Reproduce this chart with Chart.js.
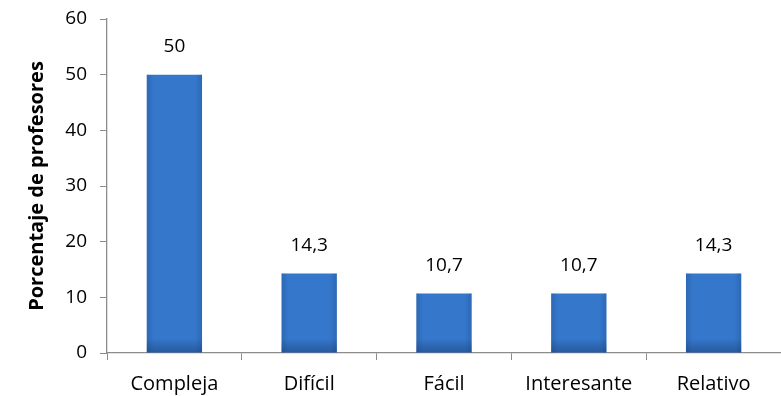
<!DOCTYPE html>
<html>
<head>
<meta charset="utf-8">
<script src="https://cdn.jsdelivr.net/npm/chart.js@4/dist/chart.umd.min.js"></script>
<style>
  html, body { margin: 0; padding: 0; background: #fff; }
  #wrap { width: 781px; height: 396px; position: relative; }
</style>
</head>
<body>
<div id="wrap"><canvas id="c"></canvas></div>
<script>
const categories = ['Compleja', 'Difícil', 'Fácil', 'Interesante', 'Relativo'];
const percentages = [50, 14.3, 10.7, 10.7, 14.3];
const yTicks = [0, 10, 20, 30, 40, 50, 60];
const yTitle = 'Porcentaje de profesores';

const FONT = '"Open Sans", "DejaVu Sans", sans-serif';
const AXIS = '#8c8c8c';

// Horizontal shading across each bar plus a darker band near the base
const barShade = {
  id: 'barShade',
  afterDatasetDraw(chart, args) {
    const ctx = chart.ctx;
    args.meta.data.forEach(bar => {
      const left = bar.x - bar.width / 2, w = bar.width;
      const top = bar.y, h = bar.base - bar.y;
      ctx.save();
      const g = ctx.createLinearGradient(left, 0, left + w, 0);
      g.addColorStop(0, 'rgba(20,50,100,0.22)');
      g.addColorStop(0.12, 'rgba(20,50,100,0.0)');
      g.addColorStop(0.88, 'rgba(20,50,100,0.0)');
      g.addColorStop(1, 'rgba(20,50,100,0.22)');
      ctx.fillStyle = g;
      ctx.fillRect(left, top, w, h);
      const bh = Math.min(14, h);
      const v = ctx.createLinearGradient(0, bar.base - bh, 0, bar.base);
      v.addColorStop(0, 'rgba(20,45,90,0)');
      v.addColorStop(1, 'rgba(20,45,90,0.4)');
      ctx.fillStyle = v;
      ctx.fillRect(left, bar.base - bh, w, bh);
      ctx.restore();
    });
  }
};

// Value labels above the bars, decimal comma
const valueLabels = {
  id: 'valueLabels',
  afterDatasetsDraw(chart) {
    const ctx = chart.ctx;
    const meta = chart.getDatasetMeta(0);
    ctx.save();
    ctx.font = '19px ' + FONT;
    ctx.fillStyle = '#000';
    ctx.textAlign = 'center';
    ctx.textBaseline = 'middle';
    meta.data.forEach((bar, i) => {
      const txt = String(percentages[i]).replace('.', ',');
      ctx.fillText(txt, bar.x, bar.y - 28);
    });
    ctx.restore();
  }
};

new Chart(document.getElementById('c'), {
  type: 'bar',
  data: {
    labels: categories,
    datasets: [{
      data: percentages,
      backgroundColor: '#3477cb',
      borderWidth: 0,
      barPercentage: 0.41,
      categoryPercentage: 1.0
    }]
  },
  options: {
    responsive: true,
    maintainAspectRatio: false,
    animation: false,
    devicePixelRatio: 1,
    layout: { padding: { top: 19, right: 0, bottom: 0, left: 0 } },
    plugins: { legend: { display: false }, tooltip: { enabled: false } },
    scales: {
      x: {
        offset: true,
        grid: {
          offset: true,
          drawOnChartArea: false,
          color: AXIS,
          tickLength: 7,
          tickColor: AXIS
        },
        border: { color: AXIS, width: 1.3 },
        ticks: { color: '#000', font: { family: FONT, size: 20 }, padding: 12, maxRotation: 0 },
        afterFit(scale) { scale.height = 43; scale.paddingLeft = 0; scale.paddingRight = 0; }
      },
      y: {
        min: 0,
        max: 60,
        afterBuildTicks(scale) { scale.ticks = yTicks.map(v => ({ value: v })); },
        grid: {
          drawOnChartArea: false,
          color: AXIS,
          tickLength: 7,
          tickColor: AXIS
        },
        border: { color: AXIS, width: 1.3 },
        ticks: { color: '#000', font: { family: FONT, size: 19 }, padding: 13 },
        title: {
          display: true,
          text: yTitle,
          color: '#000',
          font: { family: FONT, size: 20, weight: 'bold' },
          padding: { top: 25, bottom: 0 }
        },
        afterFit(scale) { scale.width = 107; scale.paddingTop = 0; scale.paddingBottom = 0; }
      }
    }
  },
  plugins: [barShade, valueLabels]
});
</script>
</body>
</html>
